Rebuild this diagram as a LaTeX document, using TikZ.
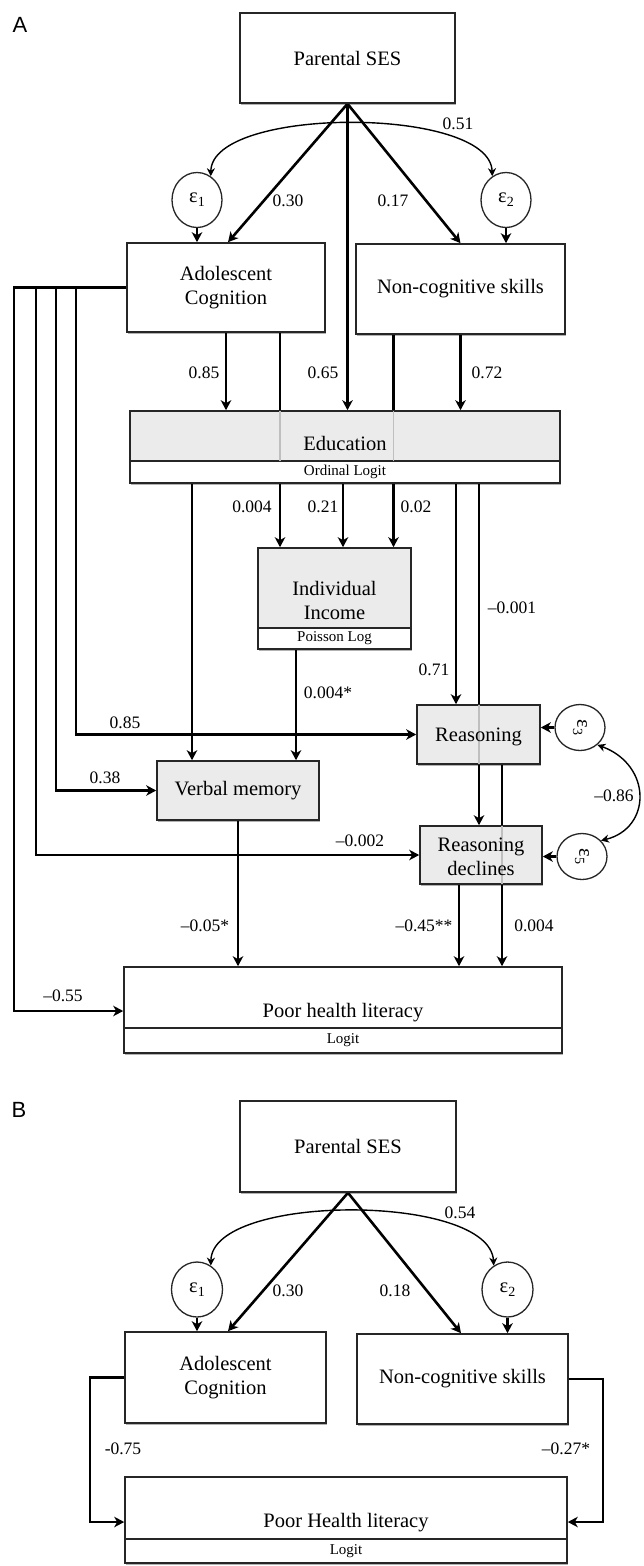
\documentclass[tikz,border=0pt]{standalone}
\usepackage{fontspec}
\setmainfont{Liberation Serif}
\newfontfamily\labfont{Liberation Sans}
\usetikzlibrary{arrows.meta,shapes.geometric,shadows,backgrounds}
\newcommand{\mainfs}{\fontsize{20.5}{24}\selectfont}
\newcommand{\numfs}{\fontsize{17.5}{20}\selectfont}
\newcommand{\bandfs}{\fontsize{15}{17}\selectfont}
\newcommand{\lowsub}[1]{\raisebox{-0.45ex}{\fontsize{14}{14}\selectfont #1}}
\newcommand{\myeps}[1]{ε\lowsub{#1}}
\begin{document}
\begin{tikzpicture}[x=1pt,y=-1pt,
  shad/.style={drop shadow={shadow xshift=1.2pt,shadow yshift=-1.8pt,opacity=0.3,fill=black}},
  box/.style={rectangle,draw=black!85,line width=1.6pt,fill=white,inner sep=0pt,align=center,font=\mainfs,shad},
  gbox/.style={box,fill=black!8},
  band/.style={box,font=\bandfs},
  txt/.style={font=\mainfs,inner sep=0pt,align=center},
  epsn/.style={ellipse,draw=black!85,line width=1.3pt,fill=white,inner sep=0pt,font=\mainfs},
  lab/.style={font=\numfs,inner sep=0pt},
  panel/.style={font=\labfont\fontsize{22}{24}\selectfont,inner sep=0pt},
  arr/.style={line width=2.6pt,draw=black,-{Stealth[length=10pt,width=10.5pt,inset=3pt]}},
  cov/.style={line width=1.4pt,draw=black,{Stealth[length=8pt,width=8pt,inset=2.5pt]}-{Stealth[length=8pt,width=8pt,inset=2.5pt]}},
  pass/.style={line width=1.8pt,draw=black!25,shorten <=0.9pt,shorten >=0.9pt}]
\useasboundingbox (0,0) rectangle (643,1566);
\begin{scope}[on background layer]
\fill[white] (0,0) rectangle (643,1566);
\end{scope}

% ---------------- Panel A ----------------
\node[panel] (labA) at (20,25) {A};
\node[box,minimum width=215pt,minimum height=90pt] (psA) at (347.5,58) {Parental SES};
\node[epsn,minimum width=50pt,minimum height=55pt] (e1A) at (197,200) {\myeps{1}};
\node[epsn,minimum width=50pt,minimum height=55pt] (e2A) at (506,200) {\myeps{2}};
\node[box,minimum width=198pt,minimum height=89pt] (acA) at (226,287.5) {Adolescent\\Cognition};
\node[box,minimum width=209pt,minimum height=90pt] (ncA) at (460.5,289) {Non-cognitive skills};
\node[gbox,minimum width=430pt,minimum height=50pt] (eduA) at (345,436) {};
\node[band,minimum width=430pt,minimum height=22pt] (eduB) at (345,472) {Ordinal Logit};
\node[gbox,minimum width=153pt,minimum height=80pt] (incA) at (334.5,588) {};
\node[band,minimum width=153pt,minimum height=21pt] (incB) at (334.5,638.5) {Poisson Log};
\node[txt] (incT) at (334.5,600) {Individual\\Income};
\node[gbox,minimum width=162pt,minimum height=59pt] (vmA) at (238,790.5) {Verbal memory};
\node[gbox,minimum width=123pt,minimum height=59pt] (reA) at (478.5,734.5) {};
\node[gbox,minimum width=122pt,minimum height=58pt] (rdA) at (481,855) {};
\node[epsn,minimum width=50pt,minimum height=46pt] (e3A) at (580,727.5) {\rotatebox{-90}{\myeps{3}}};
\node[epsn,minimum width=50pt,minimum height=46pt] (e5A) at (582,856.5) {\rotatebox{-90}{\myeps{5}}};
\node[box,minimum width=438pt,minimum height=61pt] (phlA) at (343,997.5) {};
\node[band,minimum width=438pt,minimum height=25pt] (phlB) at (343,1040.5) {Logit};
\node[txt] (phlT) at (343,1013) {Poor health literacy};

% start points of connectors
\coordinate (sAI) at ([xshift=54pt]acA.south);
\coordinate (sNI) at ([xshift=-67pt]ncA.south);
\coordinate (sEI) at ([xshift=-2pt]eduB.south);
\coordinate (sEV) at ([xshift=-153pt]eduB.south);
\coordinate (sER) at ([xshift=111pt]eduB.south);
\coordinate (sED) at ([xshift=134pt]eduB.south);
\coordinate (sIV) at ([xshift=-38.5pt]incB.south);
\coordinate (sDP) at ([xshift=-22pt]rdA.south);
\coordinate (sRP) at ([xshift=23.5pt]reA.south);
\coordinate (b1) at (14,287.5);
\coordinate (b2) at (36,287.5);
\coordinate (b3) at (56,287.5);
\coordinate (b4) at (76,287.5);

\begin{scope}[on background layer]
\draw[arr] (psA.south) -- ([xshift=2pt]acA.north);
\draw[arr] (psA.south) -- (ncA.north);
\draw[arr] (psA.south) -- (psA.south |- eduA.north);
\draw[cov] (e1A.60) .. controls (212,106) and (490,106) .. (e2A.120);
\draw[arr] (e1A.south) -- (e1A.south |- acA.north);
\draw[arr] (e2A.south) -- (e2A.south |- ncA.north);
\draw[arr] (acA.west) -- (b1) |- ([yshift=-13.5pt]phlA.west);
\draw[arr] (b2) |- (rdA.west);
\draw[arr] (b3) |- (vmA.west);
\draw[arr] (b4) |- (reA.west);
\draw[arr] (acA.south) -- (acA.south |- eduA.north);
\draw[arr] (sAI) -- (sAI |- incA.north);
\draw[arr] (sNI) -- (sNI |- incA.north);
\draw[arr] (ncA.south) -- (ncA.south |- eduA.north);
\draw[arr] (sEI) -- (sEI |- incA.north);
\draw[arr] (sEV) -- (sEV |- vmA.north);
\draw[arr] (sER) -- (sER |- reA.north);
\draw[arr] (sED) -- (sED |- rdA.north);
\draw[arr] (sIV) -- (sIV |- vmA.north);
\draw[arr] (e3A.west) -- (e3A.west -| reA.east);
\draw[arr] (e5A.west) -- (e5A.west -| rdA.east);
\draw[cov] (e3A.-45) .. controls (652,765) and (652,828) .. (e5A.40);
\draw[arr] (sDP) -- (sDP |- phlA.north);
\draw[arr] (sRP) -- (sRP |- phlA.north);
\draw[arr] (vmA.south) -- (vmA.south |- phlA.north);
\end{scope}

% lines seen through the grey boxes
\draw[pass] (sAI |- eduA.north) -- (sAI |- eduA.south);
\draw[pass] (sNI |- eduA.north) -- (sNI |- eduA.south);
\draw[pass] (sED |- reA.north) -- (sED |- reA.south);
\draw[pass] (sRP |- rdA.north) -- (sRP |- rdA.south);
\node[txt] (eduT) at (345,443) {Education};
\node[txt] (reT) at (478.5,737) {Reasoning};
\node[txt] (rdT) at (481,857) {Reasoning\\declines};

% labels A
\node[lab] (l051) at (458,124) {0.51};
\node[lab] (l030) at (288,201) {0.30};
\node[lab] (l017) at (393,201) {0.17};
\node[lab] (l085a) at (204,373) {0.85};
\node[lab] (l065) at (323,373) {0.65};
\node[lab] (l072) at (487,373) {0.72};
\node[lab] (l0004a) at (252,507) {0.004};
\node[lab] (l021) at (323,507) {0.21};
\node[lab] (l002) at (416,507) {0.02};
\node[lab] (l0001) at (512,608) {\textendash0.001};
\node[lab] (l071) at (434,670) {0.71};
\node[lab] (l0004s) at (328,693) {0.004*};
\node[lab] (l085b) at (125,723) {0.85};
\node[lab] (l038) at (105,778) {0.38};
\node[lab] (l0002) at (360,841) {\textendash0.002};
\node[lab] (l086) at (614,796) {\textendash0.86};
\node[lab] (l005) at (205,926) {\textendash0.05*};
\node[lab] (l045) at (424,926) {\textendash0.45**};
\node[lab] (l0004b) at (534,926) {0.004};
\node[lab] (l055) at (63,996) {\textendash0.55};

% ---------------- Panel B ----------------
\node[panel] (labB) at (19,1110) {B};
\node[box,minimum width=216pt,minimum height=91pt] (psB) at (348,1146.5) {Parental SES};
\node[epsn,minimum width=51pt,minimum height=55pt] (e1B) at (197,1289.5) {\myeps{1}};
\node[epsn,minimum width=51pt,minimum height=55pt] (e2B) at (507.5,1289.5) {\myeps{2}};
\node[box,minimum width=201pt,minimum height=91pt] (acB) at (225.5,1377.5) {Adolescent\\Cognition};
\node[box,minimum width=211pt,minimum height=90pt] (ncB) at (462.5,1379) {Non-cognitive skills};
\node[box,minimum width=442pt,minimum height=62pt] (phlBm) at (346,1508) {};
\node[band,minimum width=442pt,minimum height=24pt] (phlBb) at (346,1551) {Logit};
\node[txt] (phlBt) at (346,1523) {Poor Health literacy};
\coordinate (cB1) at (90,1377.5);
\coordinate (cB2) at (603,1379);

\begin{scope}[on background layer]
\draw[arr] (psB.south) -- ([xshift=2.5pt]acB.north);
\draw[arr] (psB.south) -- ([xshift=-1.5pt]ncB.north);
\draw[cov] (e1B.60) .. controls (212,1193) and (490,1193) .. (e2B.120);
\draw[arr] (e1B.south) -- (e1B.south |- acB.north);
\draw[arr] (e2B.south) -- (e2B.south |- ncB.north);
\draw[arr] (acB.west) -- (cB1) |- ([yshift=-14pt]phlBm.west);
\draw[arr] (ncB.east) -- (cB2) |- ([yshift=-14pt]phlBm.east);
\end{scope}

\node[lab] (l054) at (460,1213) {0.54};
\node[lab] (l030B) at (288,1291) {0.30};
\node[lab] (l018) at (395,1291) {0.18};
\node[lab] (l075) at (123,1449) {-0.75};
\node[lab] (l027) at (566,1449) {\textendash0.27*};
\end{tikzpicture}
\end{document}
